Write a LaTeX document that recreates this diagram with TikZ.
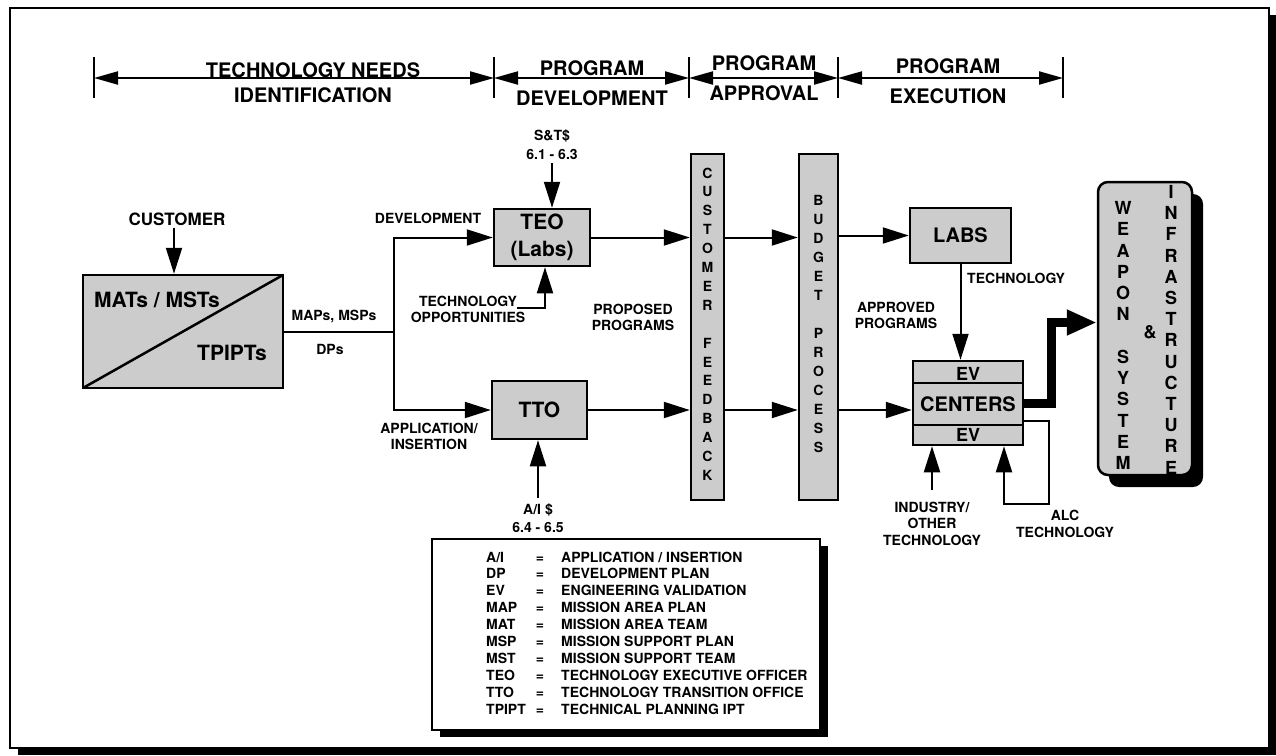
\documentclass[tikz,border=0pt]{standalone}
\usepackage{fontspec}
\setmainfont{TeX Gyre Heros}
\usetikzlibrary{arrows.meta}
\definecolor{stipple}{gray}{0.8}
\newcommand{\sizebf}[2]{\fontsize{#1}{#2}\selectfont\bfseries}

\begin{document}
\begin{tikzpicture}[x=1pt,y=-1pt,
  every node/.style={inner sep=0pt},
  lab/.style={font=\sizebf{14}{16}, align=center},
  hdr/.style={font=\sizebf{20}{24}},
  box/.style={draw, line width=2.5pt, fill=stipple},
  conn/.style={line width=2pt},
  arr/.style={conn, -{Triangle[length=26pt,width=16pt]}},
  span/.style={line width=2pt, {Triangle[length=24pt,width=13pt]}-{Triangle[length=24pt,width=13pt]}},
  tickmark/.style={line width=2pt},
  vlet/.style={font=\sizebf{14}{16}, anchor=base},
  wlet/.style={font=\sizebf{18}{20}, anchor=base},
  lgd/.style={font=\sizebf{14}{16}, anchor=base west},
]
\useasboundingbox (0,0) rectangle (1276,755);

% outer frame with drop shadow
\fill (18,15) rectangle (1276,755);
\draw[line width=2.5pt, fill=white] (10,8) rectangle (1269,748);

% phase bar
\foreach \x [count=\i] in {94,494,689,838,1063} {
  \coordinate (t\i) at (\x,78);
  \draw[tickmark] (\x,57) -- (\x,98);
}
\draw[span] (t1) -- (t2);
\draw[span] (t2) -- (t3);
\draw[span] (t3) -- (t4);
\draw[span] (t4) -- (t5);
\node[hdr] (h1a) at (313,70) {TECHNOLOGY NEEDS};
\node[hdr] (h1b) at (313,95) {IDENTIFICATION};
\node[hdr] (h2a) at (592,68.5) {PROGRAM};
\node[hdr] (h2b) at (592,98.5) {DEVELOPMENT};
\node[hdr] (h3a) at (764,63.5) {PROGRAM};
\node[hdr] (h3b) at (764,93.5) {APPROVAL};
\node[hdr] (h4a) at (948,66) {PROGRAM};
\node[hdr] (h4b) at (948,96.5) {EXECUTION};

% mission area / support teams
\node[box, minimum width=200pt, minimum height=113pt] (mat) at (183,331.5) {};
\draw[line width=2.5pt] (83,388) -- (283,275);
\node[font=\sizebf{21}{24}] (mats) at (157,300) {MATs / MSTs};
\node[font=\sizebf{21}{24}] (tpipt) at (232,353) {TPIPTs};
\node[font=\sizebf{17}{20}] (cust) at (177,219) {CUSTOMER};
\draw[arr] ([xshift=-3pt,yshift=-2pt]cust.south) -- ([xshift=-3pt]cust.south |- mat.north);

% split into development and application paths
\coordinate (split) at (394,331.5);
\node[box, minimum width=96pt, minimum height=57pt, font=\sizebf{21}{27}, align=center] (teo) at (542,237.5) {TEO\\(Labs)};
\node[box, minimum width=95pt, minimum height=58pt, font=\sizebf{21}{24}] (tto) at (539.5,410) {TTO};
\draw[conn] (mat.east) -- (split);
\draw[arr] (split) |- (teo.west);
\draw[arr] (split) |- (tto.west);
\node[lab] (maps) at (334,317) {MAPs, MSPs};
\node[lab] (dps) at (330,349) {DPs};
\node[lab] (devl) at (428,218) {DEVELOPMENT};
\node[lab] (appl) at (429,436) {APPLICATION/\\INSERTION};

% funding and technology inputs
\node[lab, font=\sizebf{14}{19}] (stc) at (552,145) {S\&T\$\\6.1 - 6.3};
\coordinate (stfoot) at (552,163);
\draw[arr] (stfoot) -- (stfoot |- teo.north);
\node[lab] (techop) at (468,309) {TECHNOLOGY\\OPPORTUNITIES};
\coordinate (topp) at (517,308);
\draw[arr] (topp) -| ([xshift=3pt]teo.south);
\node[lab, font=\sizebf{14}{18}] (ai) at (538,518) {A/I \$\\6.4 - 6.5};
\coordinate (aifoot) at (538,498);
\draw[arr] (aifoot) -- (aifoot |- tto.south);

% customer feedback and budget process columns
\node[box, minimum width=33pt, minimum height=346pt] (cf) at (707.5,327) {};
\node[box, minimum width=39pt, minimum height=346pt] (bud) at (818.5,327) {};
\foreach \c [count=\i from 0] in {C,U,S,T,O,M,E,R}
  \node[vlet] (cfa\i) at (707.5,{178+18.9*\i}) {\c};
\foreach \c [count=\i from 0] in {F,E,E,D,B,A,C,K}
  \node[vlet] (cfb\i) at (707.5,{178+18.9*(\i+9)}) {\c};
\foreach \c [count=\i from 0] in {B,U,D,G,E,T}
  \node[vlet] (bua\i) at (818.5,{205+19*\i}) {\c};
\foreach \c [count=\i from 0] in {P,R,O,C,E,S,S}
  \node[vlet] (bub\i) at (818.5,{205+19*(\i+7)}) {\c};
\node[lab] (prop) at (633,317.5) {PROPOSED\\PROGRAMS};
\node[lab] (appr) at (896,315.5) {APPROVED\\PROGRAMS};

% labs and centers
\node[box, minimum width=101pt, minimum height=55pt, font=\sizebf{20}{24}] (labs) at (960.5,235.5) {LABS};
\node[box, minimum width=110pt, minimum height=84pt] (cent) at (968,403) {};
\draw[line width=2.5pt] (913,383) -- (1023,383);
\draw[line width=2.5pt] (913,425) -- (1023,425);
\node[font=\sizebf{18}{20}] (ev1) at (968,374) {EV};
\node[font=\sizebf{20}{24}] (centers) at (968,404) {CENTERS};
\node[font=\sizebf{18}{20}] (ev2) at (968,435) {EV};

\draw[arr] (teo.east) -- (teo.east -| cf.west);
\draw[arr] (tto.east) -- (tto.east -| cf.west);
\draw[arr] (teo.east -| cf.east) -- (teo.east -| bud.west);
\draw[arr] (tto.east -| cf.east) -- (tto.east -| bud.west);
\draw[arr] (labs.west -| bud.east) -- (labs.west);
\draw[arr] (tto.east -| bud.east) -- (tto.east -| cent.west);
\draw[arr] (labs.south) -- (labs.south |- cent.north);
\node[lab, anchor=west] (labtech) at (967,278) {TECHNOLOGY};

% industry and ALC technology feeds
\coordinate (indfoot) at (932,490);
\draw[arr] (indfoot) -- (indfoot |- cent.south);
\node[lab, font=\sizebf{14}{16.5}] (ind) at (932,523.5) {INDUSTRY/\\OTHER\\TECHNOLOGY};
\coordinate (alcturn) at (1049,504);
\draw[arr] ([yshift=-18pt]cent.east) -| (alcturn) -| ([xshift=36pt]cent.south);
\node[lab, font=\sizebf{14}{17}] (alc) at (1065,523.5) {ALC\\TECHNOLOGY};

% weapon system & infrastructure
\fill[rounded corners=10pt] (1109,194) rectangle (1203,487);
\node[draw, line width=2.5pt, fill=stipple, rounded corners=10pt, minimum width=94pt, minimum height=293pt] (weap) at (1145,328.5) {};
\foreach \c [count=\i from 0] in {W,E,A,P,O,N}
  \node[wlet] (wa\i) at (1123,{214.5+21.25*\i}) {\c};
\foreach \c [count=\i from 0] in {S,Y,S,T,E,M}
  \node[wlet] (wb\i) at (1123,{214.5+21.25*(\i+7)}) {\c};
\foreach \c [count=\i from 0] in {I,N,F,R,A,S,T,R,U,C,T,U,R,E}
  \node[wlet] (wc\i) at (1171,{198.5+21.2*\i}) {\c};
\node[font=\sizebf{18}{20}] (amp) at (1150,332) {\&};
\draw[line width=9pt, -{Triangle[length=30pt,width=24pt]}] (cent.east) -- ++(27,0) |- ([yshift=6pt]weap.west);

% legend
\fill (440,546) rectangle (828,737);
\node[draw, line width=2pt, fill=white, minimum width=388pt, minimum height=191pt] (legend) at (626,634.5) {};
\foreach \t [count=\i from 0] in {A/I,DP,EV,MAP,MAT,MSP,MST,TEO,TTO,TPIPT}
  \node[lgd] (ab\i) at (486,{562+16.9*\i}) {\t};
\foreach \i in {0,...,9}
  \node[font=\sizebf{14}{16}, anchor=base] (eq\i) at (540,{562+16.9*\i}) {=};
\foreach \t [count=\i from 0] in {APPLICATION / INSERTION,DEVELOPMENT PLAN,ENGINEERING VALIDATION,MISSION AREA PLAN,MISSION AREA TEAM,MISSION SUPPORT PLAN,MISSION SUPPORT TEAM,TECHNOLOGY EXECUTIVE OFFICER,TECHNOLOGY TRANSITION OFFICE,TECHNICAL PLANNING IPT}
  \node[lgd] (de\i) at (561,{562+16.9*\i}) {\t};
\end{tikzpicture}
\end{document}
